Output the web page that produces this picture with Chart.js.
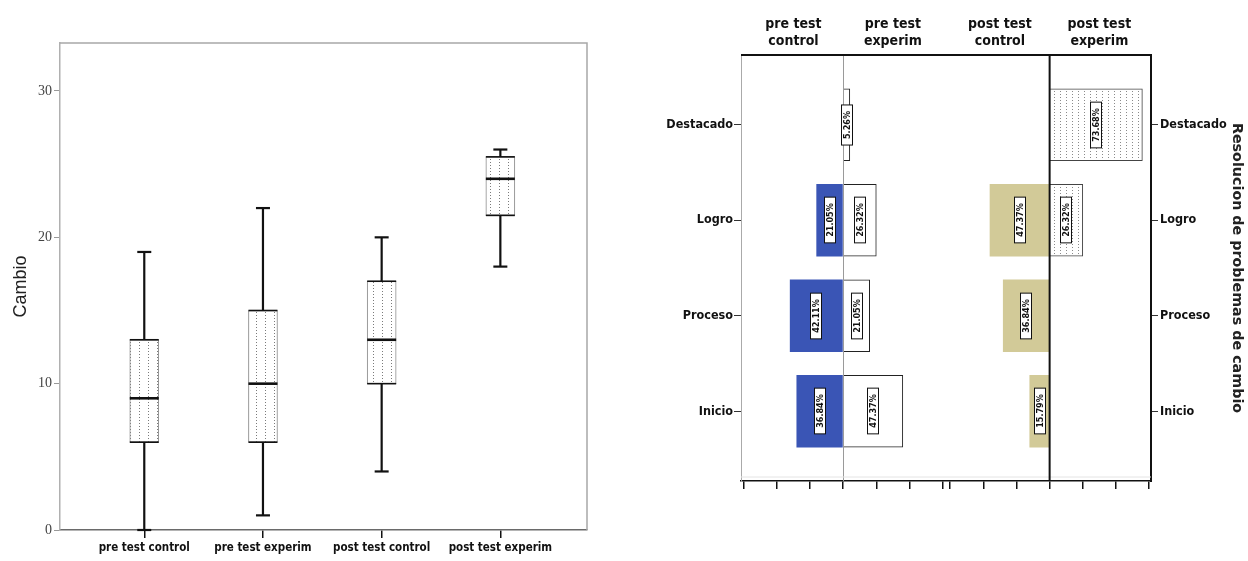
<!DOCTYPE html>
<html><head><meta charset="utf-8">
<script src="https://cdn.jsdelivr.net/npm/chart.js@4.4.1/dist/chart.umd.min.js"></script>
<style>
html,body{margin:0;padding:0;background:#fff;width:1248px;height:561px;overflow:hidden}
#a{position:absolute;left:0;top:0}
#b{position:absolute;left:620px;top:0}
</style></head><body>
<canvas id="a" width="620" height="561"></canvas>
<canvas id="b" width="628" height="561"></canvas>
<script>
// ---- Box plot data (Cambio) ----
const boxCategories = ['pre test control','pre test experim','post test control','post test experim'];
const boxMin    = [0, 1, 4, 18];
const boxQ1     = [6, 6, 10, 21.5];
const boxMedian = [9, 10, 13, 24];
const boxQ3     = [13, 15, 17, 25.5];
const boxMax    = [19, 22, 20, 26];
const cambioTicks = [0, 10, 20, 30];

// ---- Pyramid data (counts per level) ----
const levels = ['Destacado','Logro','Proceso','Inicio'];
const preControl  = [0, 4, 8, 7];
const preExperim  = [1, 5, 4, 9];
const postControl = [0, 9, 7, 3];
const postExperim = [14, 5, 0, 0];
const panelHeaders = [['pre test','control'],['pre test','experim'],['post test','control'],['post test','experim']];
const countTicks = [-15, -10, -5, 0, 5, 10, 15];
const axisTitleRight = 'Resolucion de problemas de cambio';

// ---- layout constants ----
const POST = 31.16;           // centre of the post-test panel on the count axis
const NARROW = "'Liberation Sans Narrow','DejaVu Sans Condensed','Roboto Condensed','Liberation Sans',sans-serif";

function makePattern(w, h, dots, color) {
  const c = document.createElement('canvas'); c.width = w; c.height = h;
  const g = c.getContext('2d');
  g.fillStyle = '#fff'; g.fillRect(0, 0, w, h);
  g.fillStyle = color;
  dots.forEach(d => g.fillRect(d[0], d[1], 1, 1));
  return g.createPattern(c, 'repeat');
}
const boxPattern = makePattern(9, 3, [[4, 0]], '#7a7a7a');
const dotPattern = makePattern(6, 3, [[2, 1]], '#8a8a8a');

// ================= LEFT: box plot =================
const boxPlugin = {
  id: 'boxWhiskers',
  beforeDatasetsDraw(chart) {
    const {ctx, chartArea: a} = chart;
    ctx.save();
    ctx.strokeStyle = '#a8a8a8'; ctx.lineWidth = 1.5;
    ctx.beginPath();
    ctx.moveTo(a.left, a.top); ctx.lineTo(a.right, a.top); ctx.lineTo(a.right, a.bottom);
    ctx.stroke();
    ctx.restore();
  },
  afterDatasetsDraw(chart) {
    const {ctx, scales: {x, y}} = chart;
    const meta = chart.getDatasetMeta(0);
    const ln = (x1, y1, x2, y2) => { ctx.beginPath(); ctx.moveTo(x1, y1); ctx.lineTo(x2, y2); ctx.stroke(); };
    ctx.save();
    ctx.strokeStyle = '#111';
    boxCategories.forEach((c, i) => {
      const cx = x.getPixelForValue(i + 1);
      const half = meta.data[i].width / 2;
      const pMin = y.getPixelForValue(boxMin[i]), pQ1 = y.getPixelForValue(boxQ1[i]);
      const pMed = y.getPixelForValue(boxMedian[i]), pQ3 = y.getPixelForValue(boxQ3[i]);
      const pMax = y.getPixelForValue(boxMax[i]);
      ctx.lineWidth = 2.2;
      ln(cx, pMin, cx, pQ1); ln(cx, pQ3, cx, pMax);
      ln(cx - 7, pMin, cx + 7, pMin); ln(cx - 7, pMax, cx + 7, pMax);
      ctx.lineWidth = 1.6;
      ln(cx - half, pQ1, cx + half, pQ1); ln(cx - half, pQ3, cx + half, pQ3);
      ctx.lineWidth = 2.6;
      ln(cx - half, pMed, cx + half, pMed);
    });
    ctx.restore();
  }
};

new Chart(document.getElementById('a'), {
  type: 'bar',
  data: {
    datasets: [{
      data: boxCategories.map((c, i) => ({x: i + 1, y: [boxQ1[i], boxQ3[i]]})),
      backgroundColor: boxPattern,
      borderColor: '#8a8a8a',
      borderWidth: 1,
      borderSkipped: false,
      barThickness: 29
    }]
  },
  options: {
    responsive: false, animation: false, devicePixelRatio: 1,
    layout: {padding: {top: 43, right: 33, left: 0, bottom: 0}},
    plugins: {legend: {display: false}, tooltip: {enabled: false}},
    scales: {
      x: {
        type: 'linear', min: 0.29, max: 4.73, offset: false,
        afterBuildTicks: s => { s.ticks = boxCategories.map((c, i) => ({value: i + 1})); },
        ticks: {autoSkip: false, maxRotation: 0, padding: 3, color: '#111',
          font: {family: NARROW, size: 11.5, weight: 'bold'},
          callback: v => boxCategories[Math.round(v) - 1]},
        grid: {offset: false, drawOnChartArea: false, drawTicks: true, tickLength: 8, color: '#111', lineWidth: 1.5},
        border: {display: true, color: '#6a6a6a', width: 1.5},
        afterFit: s => { s.height = 31; }
      },
      y: {
        min: 0, max: 33.28,
        afterBuildTicks: s => { s.ticks = cambioTicks.map(v => ({value: v})); },
        ticks: {autoSkip: false, padding: 2, color: '#444',
          font: {family: "'Liberation Serif',serif", size: 14}},
        grid: {drawOnChartArea: false, drawTicks: true, tickLength: 6, color: '#999'},
        border: {display: true, color: '#b0b0b0', width: 1.5},
        title: {display: true, text: 'Cambio', color: '#222',
          font: {family: "'Liberation Sans',sans-serif", size: 18}, padding: {top: 10, bottom: 0}},
        afterFit: s => { s.width = 60; }
      }
    }
  },
  plugins: [boxPlugin]
});

// ================= RIGHT: pyramid =================
function pct(counts, i) {
  const total = counts.reduce((s, v) => s + v, 0);
  return (counts[i] / total * 100).toFixed(2) + '%';
}
function floatData(counts, dir, center) {
  return counts.map((n, i) => ({n, i})).filter(d => d.n > 0)
    .map(d => ({y: d.i, x: [center, center + dir * d.n], label: pct(counts, d.i)}));
}

const pyramidPlugin = {
  id: 'pyramidDeco',
  beforeDatasetsDraw(chart) {
    const {ctx, chartArea: a, scales: {x}} = chart;
    ctx.save();
    ctx.strokeStyle = '#9a9a9a'; ctx.lineWidth = 1;
    const p0 = Math.round(x.getPixelForValue(0)) + 0.5;
    ctx.beginPath(); ctx.moveTo(p0, a.top); ctx.lineTo(p0, a.bottom); ctx.stroke();
    ctx.strokeStyle = '#e4e4e4';
    ctx.beginPath(); ctx.moveTo(a.left, a.bottom - 4); ctx.lineTo(a.right, a.bottom - 4); ctx.stroke();
    ctx.restore();
  },
  afterDatasetsDraw(chart) {
    const {ctx, chartArea: a, scales: {x}} = chart;
    ctx.save();
    // value labels
    ctx.font = "bold 9px 'DejaVu Sans Condensed','DejaVu Sans',sans-serif";
    chart.data.datasets.forEach((ds, di) => {
      const meta = chart.getDatasetMeta(di);
      meta.data.forEach((el, k) => {
        const txt = ds.data[k].label;
        const cx = (el.x + el.base) / 2, cy = el.y;
        const tw = ctx.measureText(txt).width;
        const L = tw + 12, T = 11;
        ctx.save();
        ctx.translate(Math.round(cx), Math.round(cy));
        ctx.rotate(-Math.PI / 2);
        ctx.fillStyle = '#fff';
        ctx.fillRect(-L / 2, -T / 2, L, T);
        ctx.strokeStyle = '#111'; ctx.lineWidth = 1;
        ctx.strokeRect(-L / 2, -T / 2, L, T);
        ctx.fillStyle = '#111';
        ctx.textAlign = 'center'; ctx.textBaseline = 'middle';
        ctx.fillText(txt, 0, 0.5);
        ctx.restore();
      });
    });
    // post-test centre line and top frame
    ctx.strokeStyle = '#111'; ctx.lineWidth = 2;
    const pp = x.getPixelForValue(POST);
    ctx.beginPath(); ctx.moveTo(pp, a.top); ctx.lineTo(pp, a.bottom); ctx.stroke();
    ctx.beginPath(); ctx.moveTo(a.left, a.top); ctx.lineTo(a.right + 1, a.top); ctx.stroke();
    ctx.restore();
  },
  afterDraw(chart) {
    const {ctx, scales: {x}} = chart;
    const centers = [-7.5, 7.5, POST - 7.5, POST + 7.5];
    ctx.save();
    ctx.fillStyle = '#111';
    ctx.font = 'bold 14px ' + NARROW;
    ctx.textAlign = 'center'; ctx.textBaseline = 'middle';
    panelHeaders.forEach((h, i) => {
      const px = x.getPixelForValue(centers[i]);
      ctx.fillText(h[0], px, 24);
      ctx.fillText(h[1], px, 41);
    });
    ctx.restore();
  }
};

const catTicks = s => { s.ticks = levels.map((l, i) => ({value: i})); };
const catFont = {family: NARROW, size: 12.5, weight: 'bold'};

new Chart(document.getElementById('b'), {
  type: 'bar',
  data: {
    datasets: [
      {data: floatData(preControl, -1, 0), backgroundColor: '#3a55b5', borderWidth: 0},
      {data: floatData(preExperim, 1, 0), backgroundColor: '#ffffff', borderColor: '#222', borderWidth: 1},
      {data: floatData(postControl, -1, POST), backgroundColor: '#d2ca98', borderColor: '#555', borderWidth: 0},
      {data: floatData(postExperim, 1, POST), backgroundColor: dotPattern, borderColor: '#444', borderWidth: 1}
    ]
  },
  options: {
    indexAxis: 'y',
    responsive: false, animation: false, devicePixelRatio: 1,
    layout: {padding: {top: 55, right: 0, left: 0, bottom: 0}},
    datasets: {bar: {grouped: false, barThickness: 72}},
    plugins: {legend: {display: false}, tooltip: {enabled: false}},
    scales: {
      x: {
        type: 'linear', min: -15.42, max: 46.46, offset: false,
        afterBuildTicks: s => { s.ticks = countTicks.map(v => ({value: v})).concat(countTicks.map(v => ({value: v + POST}))); },
        ticks: {autoSkip: false, maxRotation: 0, callback: () => ''},
        grid: {offset: false, drawOnChartArea: false, drawTicks: true, tickLength: 8, color: '#111', lineWidth: 1.5},
        border: {display: true, color: '#111', width: 1.5},
        afterFit: s => { s.height = 80; }
      },
      y: {
        type: 'linear', position: 'left', reverse: true, min: -0.73, max: 3.73, offset: false,
        afterBuildTicks: catTicks,
        ticks: {autoSkip: false, padding: 1, color: '#111', font: catFont, callback: v => levels[v]},
        grid: {offset: false, drawOnChartArea: false, drawTicks: true, tickLength: 7, color: '#333'},
        border: {display: true, color: '#aaa', width: 1},
        afterFit: s => { s.width = 121; }
      },
      y2: {
        type: 'linear', position: 'right', reverse: true, min: -0.73, max: 3.73, offset: false,
        afterBuildTicks: catTicks,
        ticks: {autoSkip: false, padding: 2, color: '#111', font: catFont, callback: v => levels[v]},
        grid: {offset: false, drawOnChartArea: false, drawTicks: true, tickLength: 7, color: '#333'},
        border: {display: true, color: '#111', width: 2},
        title: {display: true, text: axisTitleRight, color: '#222',
          font: {family: "'DejaVu Sans',sans-serif", size: 14.3, weight: 'bold'}, padding: {top: 3, bottom: 0}},
        afterFit: s => { s.width = 97; }
      }
    }
  },
  plugins: [pyramidPlugin]
});
</script>
</body></html>
